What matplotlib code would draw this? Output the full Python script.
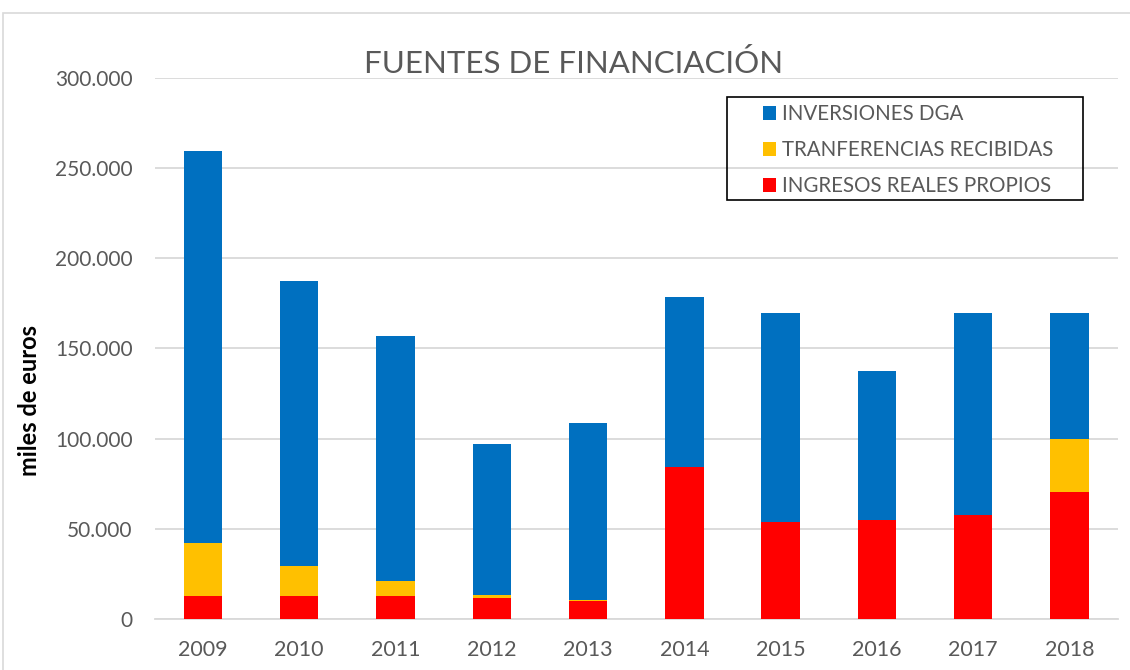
import numpy as np
import matplotlib
matplotlib.use("Agg")
import matplotlib.pyplot as plt
from matplotlib.patches import Rectangle
from matplotlib.ticker import FuncFormatter

years = ['2009', '2010', '2011', '2012', '2013', '2014', '2015', '2016', '2017', '2018']
# miles de euros
ingresos = [12900, 12600, 12800, 11700, 10200, 84000, 54000, 55000, 57800, 70300]
transfer = [29300, 16600, 8500, 1800, 400, 0, 0, 0, 0, 29700]
inversiones = [217000, 158200, 135400, 83300, 98100, 94300, 115400, 82400, 111600, 69400]

plt.rcParams['font.family'] = ['Lato', 'DejaVu Sans']

W, H = 1130, 670
fig = plt.figure(figsize=(W / 100, H / 100), dpi=100)
ax = fig.add_axes([0.137, 0.076, 0.852, 0.808])

x = np.arange(len(years))
w = 0.4
b1 = np.array(ingresos)
b2 = b1 + np.array(transfer)
ax.bar(x, ingresos, w, color='#FF0000', label='INGRESOS REALES PROPIOS', zorder=3)
ax.bar(x, transfer, w, bottom=b1, color='#FFC000', label='TRANFERENCIAS RECIBIDAS', zorder=3)
ax.bar(x, inversiones, w, bottom=b2, color='#0070C0', label='INVERSIONES DGA', zorder=3)

ax.set_xlim(-0.5, len(years) - 0.5)
ax.set_ylim(0, 300000)
ax.set_yticks(np.arange(0, 300001, 50000))
ax.yaxis.set_major_formatter(FuncFormatter(lambda v, p: f'{int(v):,}'.replace(',', '.')))
ax.set_xticks(x)
ax.set_xticklabels(years)
ax.grid(axis='y', color='#d9d9d9', linewidth=1.3, zorder=0)
for s in ['top', 'right', 'left']:
    ax.spines[s].set_visible(False)
ax.spines['bottom'].set_color('#d9d9d9')
ax.spines['bottom'].set_linewidth(1.3)
ax.tick_params(length=0, colors='#595959')
ax.tick_params(axis='x', labelsize=15.5, pad=15)
ax.tick_params(axis='y', labelsize=15, pad=16)

fig.text(30 / W, 1 - 401 / H, 'miles de euros', rotation=90, ha='center', va='center',
         fontsize=17, fontweight='bold', color='black')
fig.text(0.508, 0.905, 'FUENTES DE FINANCIACIÓN', ha='center', va='center',
         fontsize=22.5, color='#595959')

h, l = ax.get_legend_handles_labels()
leg = fig.legend(h[::-1], l[::-1], loc='upper left',
                 bbox_to_anchor=(763 / W, 1 - 104 / H), bbox_transform=fig.transFigure,
                 fontsize=14.8, frameon=False,
                 handlelength=0.65, handleheight=0.65, handletextpad=0.25,
                 labelspacing=0.78, borderpad=0, borderaxespad=0)
for t in leg.get_texts():
    t.set_color('#595959')

# legend box
fig.patches.append(Rectangle((727 / W, 1 - 200 / H), (1083 - 727) / W, 103 / H,
                             transform=fig.transFigure, fill=False,
                             edgecolor='black', linewidth=1.2))
# outer chart frame
fig.patches.append(Rectangle((3 / W, -0.01), 1.02, 1 - 13 / H + 0.01,
                             transform=fig.transFigure, fill=False,
                             edgecolor='#d9d9d9', linewidth=1.2))

fig.savefig('out.png', dpi=100)
